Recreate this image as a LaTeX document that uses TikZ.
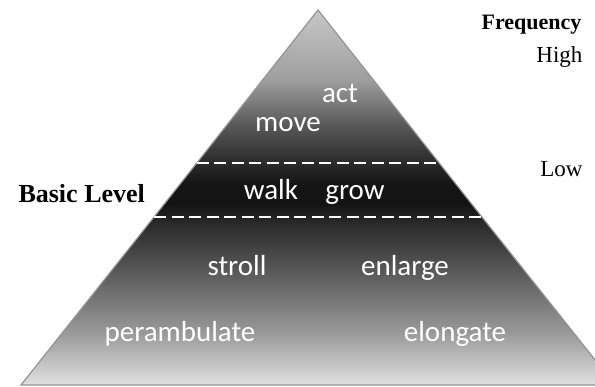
\documentclass[tikz,border=0pt]{standalone}
\usepackage{fontspec}
\setmainfont{Liberation Serif}
\newfontfamily\wordfont{Carlito}
\usepackage{tikz}
\usetikzlibrary{calc}

\definecolor{edgegray}{gray}{0.58}
\pgfdeclareverticalshading{pyramidshade}{100bp}{%
  color(0bp)=(black!12); color(25bp)=(black!12);
  color(32bp)=(black!40); color(40.8bp)=(black!67);
  color(46.4bp)=(black!83); color(49.1bp)=(black!92);
  color(51.7bp)=(black!92); color(55bp)=(black!82);
  color(59.7bp)=(black!65); color(65.7bp)=(black!38);
  color(75bp)=(black!22); color(100bp)=(black!22)}

\tikzset{
  word/.style={text=white, anchor=base, font=\wordfont\fontsize{29}{31}\selectfont},
  sidetext/.style={text=black, anchor=base east, font=\fontsize{23}{26}\selectfont},
  levelline/.style={white, line width=1.8pt, dash pattern=on 12pt off 5.5pt}
}

\begin{document}
\begin{tikzpicture}[x=1pt,y=-1pt]
    \clip (0,0) rectangle (595,386);
    % Draw the pyramid
    \coordinate (top) at (318,10);
    \coordinate (left) at (21,385);
    \coordinate (right) at (615,385);
    \shade[shading=pyramidshade, draw=edgegray, line width=1.2pt] (top) -- (right) -- (left) -- cycle;
    % Draw the basic level band
    \draw[levelline] ($(top)!0.408!(left)$) -- ($(top)!0.408!(right)$);
    \draw[levelline] ($(top)!0.552!(left)$) -- ($(top)!0.552!(right)$);
    % Draw the verbs
    \node[word] (act) at (340,102) {act};
    \node[word] (move) at (288,131) {move};
    \node[word] (walk) at (271,199) {walk};
    \node[word] (grow) at (355,199) {grow};
    \node[word] (stroll) at (237,275) {stroll};
    \node[word] (enlarge) at (405,275) {enlarge};
    \node[word] (perambulate) at (180,341) {perambulate};
    \node[word] (elongate) at (455,341) {elongate};
    % Draw the side labels
    \node[text=black, anchor=base west, font=\bfseries\fontsize{26}{28}\selectfont] (basic) at (15,202) {Basic Level};
    \node[sidetext, font=\bfseries\fontsize{22}{24}\selectfont] (freq) at (585,29) {Frequency};
    \node[sidetext] (high) at (586,62) {High};
    \node[sidetext] (low) at (586,176) {Low};
\end{tikzpicture}
\end{document}
